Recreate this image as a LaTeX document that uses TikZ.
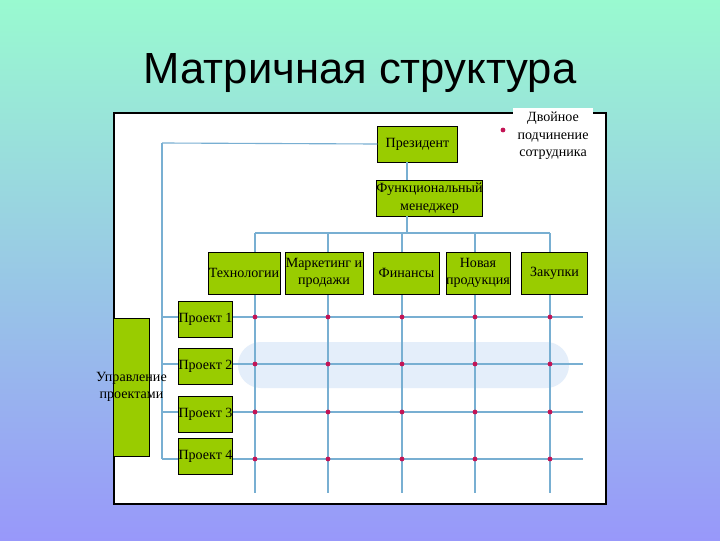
\documentclass[tikz,border=0pt]{standalone}
\usepackage{fontspec}
\setmainfont{Liberation Serif}
\newfontfamily\titlefont{Liberation Sans}
\usetikzlibrary{positioning}

\definecolor{bgtop}{RGB}{153,250,208}
\definecolor{bgmid}{RGB}{150,226,220}
\definecolor{bgbottom}{RGB}{152,152,250}
\definecolor{boxgreen}{RGB}{153,204,0}
\definecolor{lineblue}{RGB}{120,175,210}
\definecolor{dotred}{RGB}{195,20,85}
\definecolor{rowlight}{RGB}{228,238,250}

\begin{document}
\begin{tikzpicture}[x=0.025cm,y=-0.025cm,
    box/.style={draw=black,fill=boxgreen,line width=0.6pt,inner sep=0pt,align=center,
        font=\fontsize{10}{12.5}\selectfont},
    txt/.style={align=center,inner sep=0pt,font=\fontsize{10}{12.5}\selectfont},
    gridline/.style={lineblue,line width=0.8pt}]

    % Background
    \shade[top color=bgtop,middle color=bgmid,bottom color=bgbottom] (0,0) rectangle (720,540);
    \useasboundingbox (0,0) rectangle (720,540);

    % Title
    \node[anchor=base,font=\titlefont\fontsize{31}{36}\selectfont] (title) at (360,83) {Матричная структура};

    % Panel
    \draw[fill=white,line width=0.8pt] (114,113) rectangle (606,504);

    % Highlighted row
    \fill[rowlight,rounded corners=0.57cm] (238,342) rectangle (569,388);

    % Grid (rows and columns)
    \coordinate (bus) at (407,233);
    \coordinate (left) at (162,143);
    \foreach \r/\y in {1/317, 2/364, 3/412, 4/459} {
        \coordinate (row\r) at (162,\y);
        \draw[gridline] (row\r) -- (583,\y);
    }
    \draw[gridline] (left) -- (row4);
    \foreach \c/\x in {1/255, 2/328, 3/402, 4/475, 5/550} {
        \coordinate (col\c) at (\x,233);
        \draw[gridline] (col\c) -- (\x,493);
    }
    \draw[gridline] (col1) -- (col5);

    % Intersections
    \foreach \x in {255,328,402,475,550} {
        \foreach \y in {317,364,412,459} {
            \fill[dotred] (\x,\y) circle[radius=1.7pt];
        }
    }

    % Top of the hierarchy
    \node[box,minimum width=1.98cm,minimum height=0.9cm] (pres) at (417.5,144) {Президент};
    \node[box,minimum width=2.58cm,minimum height=0.9cm] (func) at (429.5,198) {Функциональный\\менеджер};
    \draw[gridline] (left) -- (pres.west);
    \draw[gridline] (pres.south -| bus) -- (func.north -| bus);
    \draw[gridline] (func.south -| bus) -- (bus);

    % Functional departments
    \node[box,minimum width=1.8cm,minimum height=1.05cm] (tech) at (244,273) {Технологии};
    \node[box,minimum width=1.95cm,minimum height=1.05cm] (mark) at (324,273) {Маркетинг и\\продажи};
    \node[box,minimum width=1.63cm,minimum height=1.05cm] (fin) at (406.5,273) {Финансы};
    \node[box,minimum width=1.6cm,minimum height=1.05cm] (new) at (478,273) {Новая\\продукция};
    \node[box,minimum width=1.63cm,minimum height=1.05cm] (buy) at (554.5,273) {Закупки};

    % Projects
    \foreach \p/\y in {1/319, 2/366, 3/414, 4/456} {
        \node[box,minimum width=1.33cm,minimum height=0.9cm] (proj\p) at (205.5,\y) {Проект \p};
    }
    \node[box,minimum width=0.88cm,minimum height=3.45cm,
        label={[txt]center:Управление\\проектами}] (pm) at (131.5,387) {};

    % Legend
    \node[txt,fill=white,inner sep=3pt] (legend) at (553,136) {Двойное\\подчинение\\сотрудника};
    \fill[dotred] (503,130) circle[radius=1.7pt];

\end{tikzpicture}
\end{document}
